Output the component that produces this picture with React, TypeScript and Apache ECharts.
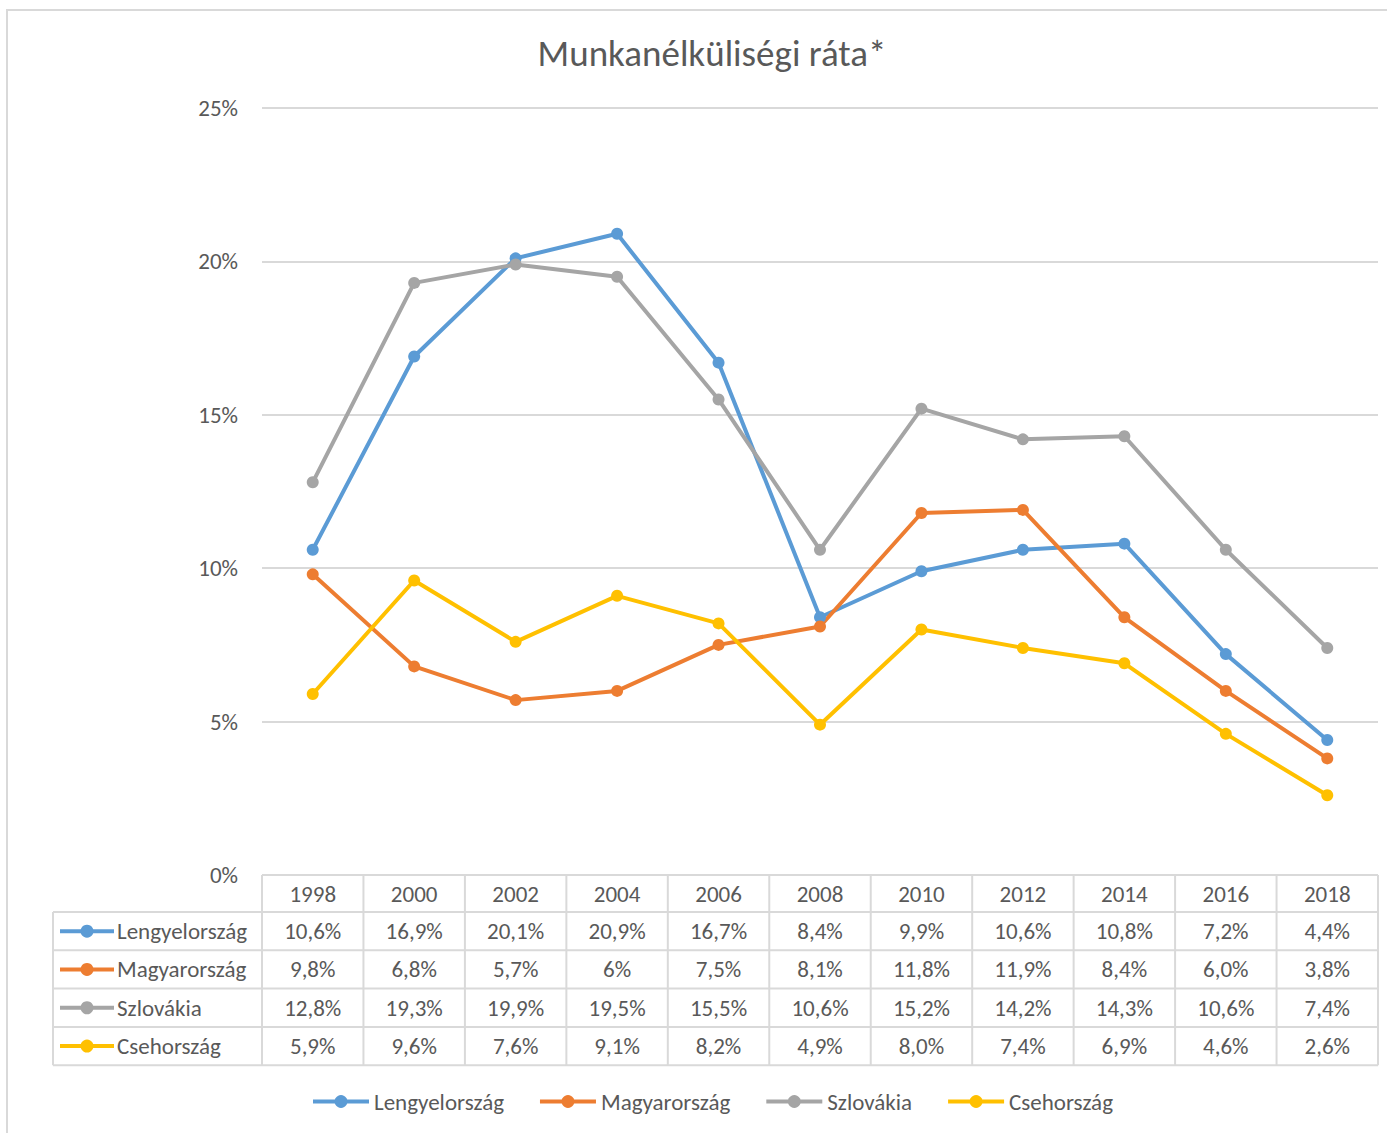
import React, { useEffect, useRef } from "react";
import * as echarts from "echarts";

const title = "Munkanélküliségi ráta*";
const years = ["1998", "2000", "2002", "2004", "2006", "2008", "2010", "2012", "2014", "2016", "2018"];
const seriesNames = ["Lengyelország", "Magyarország", "Szlovákia", "Csehország"];
const lengyel = [10.6, 16.9, 20.1, 20.9, 16.7, 8.4, 9.9, 10.6, 10.8, 7.2, 4.4];
const magyar = [9.8, 6.8, 5.7, 6.0, 7.5, 8.1, 11.8, 11.9, 8.4, 6.0, 3.8];
const szlovak = [12.8, 19.3, 19.9, 19.5, 15.5, 10.6, 15.2, 14.2, 14.3, 10.6, 7.4];
const cseh = [5.9, 9.6, 7.6, 9.1, 8.2, 4.9, 8.0, 7.4, 6.9, 4.6, 2.6];
const lengyelLabels = ["10,6%", "16,9%", "20,1%", "20,9%", "16,7%", "8,4%", "9,9%", "10,6%", "10,8%", "7,2%", "4,4%"];
const magyarLabels = ["9,8%", "6,8%", "5,7%", "6%", "7,5%", "8,1%", "11,8%", "11,9%", "8,4%", "6,0%", "3,8%"];
const szlovakLabels = ["12,8%", "19,3%", "19,9%", "19,5%", "15,5%", "10,6%", "15,2%", "14,2%", "14,3%", "10,6%", "7,4%"];
const csehLabels = ["5,9%", "9,6%", "7,6%", "9,1%", "8,2%", "4,9%", "8,0%", "7,4%", "6,9%", "4,6%", "2,6%"];
const yTicks = { min: 0, max: 25, interval: 5 };

const colors = ["#5B9BD5", "#ED7D31", "#A5A5A5", "#FFC000"];
const FONT = "Carlito, Calibri, Lato, sans-serif";
const TEXT = "#595959";
const LINE = "#d9d9d9";
const FS = 23;

export default function App() {
  const ref = useRef<HTMLDivElement>(null);
  useEffect(() => {
    const chart = echarts.init(ref.current!, null, { renderer: "svg" });
    const values = [lengyel, magyar, szlovak, cseh];
    const labels = [lengyelLabels, magyarLabels, szlovakLabels, csehLabels];
    chart.setOption({
      animation: false,
      backgroundColor: "#ffffff",
      textStyle: { fontFamily: FONT },
      title: {
        text: title,
        left: 707,
        top: 30,
        textAlign: "center",
        textStyle: { fontFamily: FONT, fontSize: 37, fontWeight: "normal", color: TEXT },
      },
      legend: {
        top: 1085,
        left: 306,
        itemWidth: 56,
        itemHeight: 16,
        itemGap: 34,
        lineStyle: { width: 4 },
        textStyle: { fontFamily: FONT, fontSize: FS, color: TEXT },
        data: seriesNames,
      },
      grid: { left: 262, right: 9, top: 108, bottom: 258 },
      xAxis: {
        type: "category",
        data: years,
        boundaryGap: true,
        axisLine: { show: false },
        axisTick: { show: false },
        axisLabel: { show: false },
      },
      yAxis: {
        type: "value",
        min: yTicks.min,
        max: yTicks.max,
        interval: yTicks.interval,
        axisLine: { show: false },
        axisTick: { show: false },
        axisLabel: { formatter: "{value}%", fontFamily: FONT, fontSize: FS, color: TEXT, margin: 24 },
        splitLine: { lineStyle: { color: LINE, width: 2 } },
      },
      series: seriesNames.map((n, k) => ({
        name: n,
        type: "line",
        data: values[k],
        symbol: "circle",
        symbolSize: 12,
        color: colors[k],
        lineStyle: { width: 4, color: colors[k] },
        itemStyle: { color: colors[k] },
      })),
    });

    const xs = years.map((y) => chart.convertToPixel({ xAxisIndex: 0 }, y) as number);
    const y0 = chart.convertToPixel({ yAxisIndex: 0 }, 0) as number;
    const half = (xs[1] - xs[0]) / 2;
    const leftTable = 53;
    const gridLeft = xs[0] - half;
    const gridRight = xs[xs.length - 1] + half;
    const headerH = 37;
    const rowH = 38.3;
    const rowTops = [y0, y0 + headerH];
    for (let r = 1; r <= seriesNames.length; r++) rowTops.push(y0 + headerH + r * rowH);
    const bottom = rowTops[rowTops.length - 1];
    const els: any[] = [];
    const ls = { stroke: LINE, lineWidth: 2 };
    els.push({ type: "rect", shape: { x: 7, y: 10, width: 1400, height: 1140 }, style: { fill: "none", stroke: LINE, lineWidth: 2 }, z: 0 });
    els.push({ type: "line", shape: { x1: gridLeft, y1: y0, x2: gridRight, y2: y0 }, style: ls });
    for (let r = 1; r < rowTops.length; r++) {
      els.push({ type: "line", shape: { x1: leftTable, y1: rowTops[r], x2: gridRight, y2: rowTops[r] }, style: ls });
    }
    els.push({ type: "line", shape: { x1: leftTable, y1: rowTops[1], x2: leftTable, y2: bottom }, style: ls });
    for (let i = 0; i <= xs.length; i++) {
      const x = gridLeft + i * 2 * half;
      els.push({ type: "line", shape: { x1: x, y1: y0, x2: x, y2: bottom }, style: ls });
    }
    years.forEach((y, i) => {
      els.push({
        type: "text",
        x: xs[i],
        y: (rowTops[0] + rowTops[1]) / 2,
        style: { text: y, fill: TEXT, font: `${FS}px ${FONT}`, textAlign: "center", textVerticalAlign: "middle" },
      });
    });
    seriesNames.forEach((n, k) => {
      const cy = (rowTops[k + 1] + rowTops[k + 2]) / 2;
      els.push({ type: "line", shape: { x1: 60, y1: cy, x2: 114, y2: cy }, style: { stroke: colors[k], lineWidth: 4 } });
      els.push({ type: "circle", shape: { cx: 87, cy, r: 6.5 }, style: { fill: colors[k] } });
      els.push({
        type: "text",
        x: 117,
        y: cy,
        style: { text: n, fill: TEXT, font: `${FS}px ${FONT}`, textAlign: "left", textVerticalAlign: "middle" },
      });
      labels[k].forEach((t, i) => {
        els.push({
          type: "text",
          x: xs[i],
          y: cy,
          style: { text: t, fill: TEXT, font: `${FS}px ${FONT}`, textAlign: "center", textVerticalAlign: "middle" },
        });
      });
    });
    chart.setOption({ graphic: els });
    return () => chart.dispose();
  }, []);
  return (
    <div
      ref={ref}
      style={{ position: "absolute", left: 0, top: 0, width: 1387, height: 1133 }}
    />
  );
}
